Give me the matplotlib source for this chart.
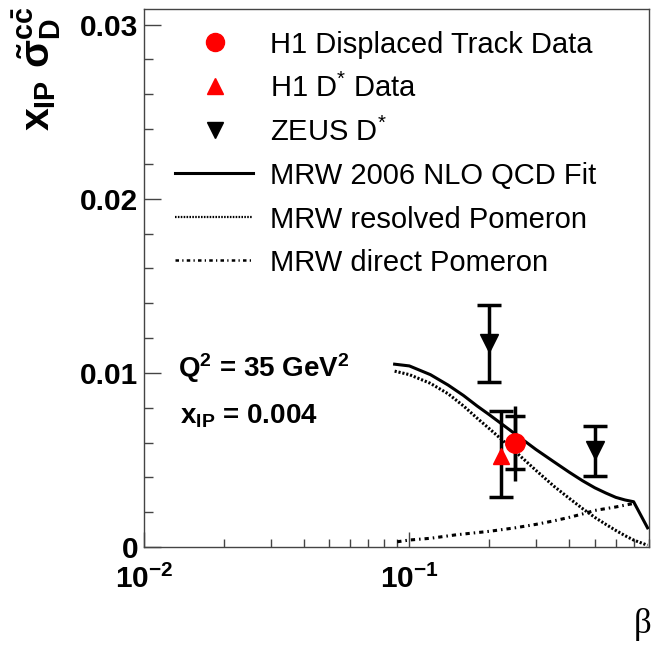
import matplotlib
matplotlib.use("Agg")
import matplotlib.pyplot as plt
from matplotlib.lines import Line2D
from matplotlib.ticker import FixedLocator, FixedFormatter, MultipleLocator, LogLocator, NullFormatter

plt.rcParams.update({
    "font.family": ["Liberation Sans", "DejaVu Sans"],
    "mathtext.fontset": "custom",
    "mathtext.rm": "Liberation Sans:bold",
    "mathtext.it": "Liberation Sans:bold",
    "mathtext.bf": "Liberation Sans:bold",
    "mathtext.sf": "Liberation Sans",
})

# ---- data ----
# H1 displaced-track point: value, stat and total errors
h1_dt_beta = [0.25]
h1_dt_val = [0.0060]
h1_dt_stat_lo = [0.0015]
h1_dt_stat_hi = [0.0015]
h1_dt_tot_lo = [0.0022]
h1_dt_tot_hi = [0.0021]

# H1 D* point
h1_ds_beta = [0.222]
h1_ds_val = [0.0052]
h1_ds_err_lo = [0.0023]
h1_ds_err_hi = [0.0026]

# ZEUS D* points
zeus_beta = [0.2, 0.5]
zeus_val = [0.0117, 0.00555]
zeus_err_lo = [0.0022, 0.00147]
zeus_err_hi = [0.0022, 0.0014]

# MRW 2006 curves
fit_beta = [0.088, 0.10, 0.12, 0.14, 0.16, 0.18, 0.20, 0.25, 0.30, 0.35,
            0.40, 0.45, 0.50, 0.55, 0.60, 0.65, 0.70, 0.79]
fit_total = [0.0105, 0.0104, 0.0099, 0.0093, 0.0087, 0.0081, 0.0076, 0.0065,
             0.0056, 0.0049, 0.0043, 0.0038, 0.0034, 0.0031, 0.00285, 0.0027,
             0.0026, 0.0011]
fit_resolved = [0.0101, 0.0099, 0.0094, 0.0088, 0.0081, 0.0074, 0.0068, 0.0055,
                0.0044, 0.0035, 0.0028, 0.0022, 0.0017, 0.0013, 0.00095, 0.00065,
                0.0004, 0.0001]
dir_beta = [0.09, 0.10, 0.12, 0.15, 0.20, 0.25, 0.30, 0.35, 0.40, 0.45, 0.50,
            0.60, 0.70]
fit_direct = [0.0003, 0.0004, 0.0005, 0.0007, 0.0009, 0.0011, 0.0013, 0.0015,
              0.0017, 0.0019, 0.0021, 0.0023, 0.0025]

x_ticks = [0.01, 0.1]
x_tick_labels = [r"$10^{-2}$", r"$10^{-1}$"]
y_ticks = [0.0, 0.01, 0.02, 0.03]
y_tick_labels = ["0", "0.01", "0.02", "0.03"]

legend_labels = ["H1 Displaced Track Data", r"H1 D$^{\mathsf{*}}$ Data",
                 r"ZEUS D$^{\mathsf{*}}$", "MRW 2006 NLO QCD Fit",
                 "MRW resolved Pomeron", "MRW direct Pomeron"]

# ---- figure ----
W, H = 658, 646
fig = plt.figure(figsize=(W / 100, H / 100), dpi=100)


def px(x, y):
    """pixel position (from top-left) -> figure fraction"""
    return x / W, 1 - y / H


ax = fig.add_axes([144 / W, (H - 547) / H, (649 - 144) / W, (547 - 9) / H])
ax.set_xscale("log")
ax.set_xlim(0.01, 0.8)
ax.set_ylim(0, 0.0309)

LW = 2.2
dotted = (0, (0.7, 0.6))
dashdot = (0, (1.4, 1.3, 0.5, 1.3))

ax.plot(fit_beta, fit_total, color="k", lw=LW, solid_joinstyle="round", zorder=3)
ax.plot(fit_beta, fit_resolved, color="k", lw=LW, ls=dotted, zorder=3)
ax.plot(dir_beta, fit_direct, color="k", lw=LW, ls=dashdot, zorder=3)

EW = 2.5
CAP = 8.5
# ZEUS
ax.errorbar(zeus_beta, zeus_val, yerr=[zeus_err_lo, zeus_err_hi], fmt="none",
            ecolor="k", elinewidth=EW, capsize=CAP, capthick=EW, zorder=4)
ax.plot(zeus_beta, zeus_val, "v", color="k", ms=13, mec="k", zorder=5)
# H1 D*
ax.errorbar(h1_ds_beta, h1_ds_val, yerr=[h1_ds_err_lo, h1_ds_err_hi], fmt="none",
            ecolor="k", elinewidth=EW, capsize=CAP, capthick=EW, zorder=4)
ax.plot(h1_ds_beta, h1_ds_val, "^", color="#ff0000", mec="#ff0000", ms=12, zorder=5)
# H1 displaced track: total error line plus stat caps
ax.errorbar(h1_dt_beta, h1_dt_val, yerr=[h1_dt_tot_lo, h1_dt_tot_hi], fmt="none",
            ecolor="k", elinewidth=EW, capsize=0, zorder=4)
ax.errorbar(h1_dt_beta, h1_dt_val, yerr=[h1_dt_stat_lo, h1_dt_stat_hi], fmt="none",
            ecolor="k", elinewidth=EW, capsize=CAP - 1, capthick=EW, zorder=4)
ax.plot(h1_dt_beta, h1_dt_val, "o", color="#ff0000", mec="#ff0000", ms=14, zorder=5)

# axes styling
for s in ax.spines.values():
    s.set_color("#444444")
    s.set_linewidth(1.0)
ax.xaxis.set_major_locator(FixedLocator(x_ticks))
ax.xaxis.set_major_formatter(FixedFormatter(x_tick_labels))
ax.xaxis.set_minor_locator(LogLocator(base=10, subs=range(2, 10)))
ax.xaxis.set_minor_formatter(NullFormatter())
ax.yaxis.set_major_locator(FixedLocator(y_ticks))
ax.yaxis.set_major_formatter(FixedFormatter(y_tick_labels))
ax.yaxis.set_minor_locator(MultipleLocator(0.002))
ax.tick_params(axis="both", which="both", direction="in", color="#444444",
               width=1.0, top=False, right=False)
ax.tick_params(axis="y", which="major", length=12, pad=4, labelsize=21.5)
ax.tick_params(axis="y", which="minor", length=6.5)
ax.tick_params(axis="x", which="major", length=11, pad=13, labelsize=21.5)
ax.tick_params(axis="x", which="minor", length=6)
for lab in ax.get_yticklabels():
    lab.set_fontweight("bold")

# axis titles
fig.text(*px(50, 6), r"$x_{IP}\ \tilde{\sigma}_{D}^{c\bar{c}}$", rotation=90,
         rotation_mode="anchor", ha="right", va="baseline", fontsize=29.5)
fig.text(*px(651, 633), "β", fontsize=25, family="Liberation Serif",
         ha="right", va="baseline")

# kinematics
fig.text(*px(178, 377), r"Q$^{2}$ = 35 GeV$^{2}$", fontsize=20, fontweight="bold",
         ha="left", va="baseline")
fig.text(*px(180, 423), r"x$_{IP}$ = 0.004", fontsize=20, fontweight="bold",
         ha="left", va="baseline")

# legend
rows = [42, 86, 129.5, 173, 216.5, 260]
for lbl, yc in zip(legend_labels, rows):
    fig.text(*px(270, yc + 11), lbl, fontsize=21, ha="left", va="baseline")
mx = 215
fig.add_artist(Line2D(*zip(px(mx, rows[0])), marker="o", ms=13, color="#ff0000",
                      ls="none", transform=fig.transFigure))
fig.add_artist(Line2D(*zip(px(mx, rows[1])), marker="^", ms=11.5, color="#ff0000",
                      ls="none", transform=fig.transFigure))
fig.add_artist(Line2D(*zip(px(mx, rows[2])), marker="v", ms=11, color="k",
                      ls="none", transform=fig.transFigure))
for yc, st, w in zip(rows[3:], ["-", dotted, dashdot], [LW, 1.6, 1.8]):
    (x0, y0), (x1, y1) = px(175, yc), px(253, yc)
    fig.add_artist(Line2D([x0, x1], [y0, y1], color="k", lw=w, ls=st,
                          transform=fig.transFigure))

fig.savefig("out.png", dpi=100)
